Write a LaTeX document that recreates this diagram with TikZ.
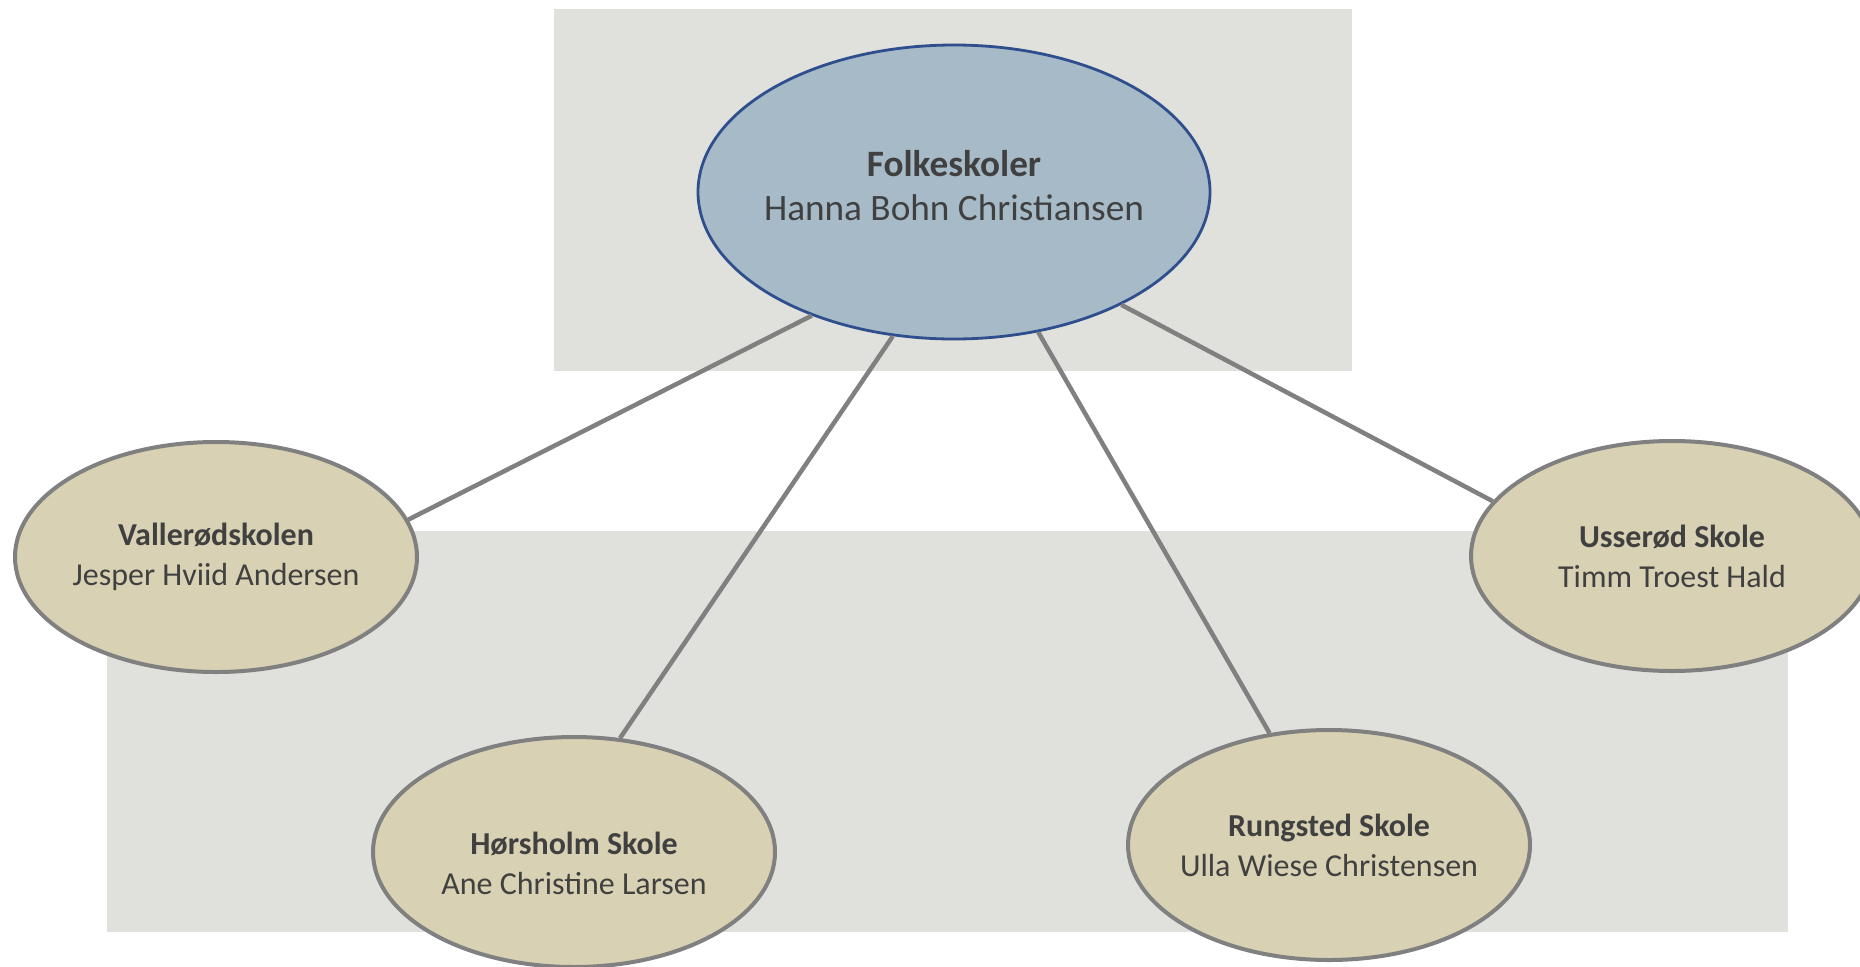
\documentclass[tikz,border=0pt]{standalone}
\usepackage{fontspec}
\setmainfont{Carlito}
\usetikzlibrary{shapes.geometric}
\definecolor{panelgray}{HTML}{E0E0DC}
\definecolor{headfill}{HTML}{A6BBC7}
\definecolor{headline}{HTML}{2E4E8E}
\definecolor{schoolfill}{HTML}{D8D1B3}
\definecolor{schoolline}{HTML}{808080}
\definecolor{textgray}{HTML}{404040}
\begin{document}
\begin{tikzpicture}[
    head/.style={ellipse, draw=headline, fill=headfill, line width=0.028cm,
      minimum width=5.12cm, minimum height=2.94cm, inner xsep=-0.8cm, inner ysep=0pt,
      text depth=0.13cm, align=center, text=textgray, font=\fontsize{10.6}{12.6}\selectfont},
    school/.style={ellipse, draw=schoolline, fill=schoolfill, line width=0.04cm,
      minimum width=4.02cm, minimum height=2.30cm, inner xsep=-0.6cm, inner ysep=0pt,
      align=center, text=textgray, font=\fontsize{9.1}{11.4}\selectfont},
    link/.style={draw=schoolline, line width=0.045cm}
  ]
                    \useasboundingbox (0,0) rectangle (18.600000,9.660000);
                    \clip (0,0) rectangle (18.600000,9.660000);

                    % Drawing panel behind head
                    \fill [panelgray] (5.540000,5.950000) rectangle (13.520000,9.565000);%

                    % Drawing panel behind schools
                    \fill [panelgray] (1.070000,0.340000) rectangle (17.880000,4.350000);%

                    % Marking head Folkeskoler
                    \node [head] (folk) at (9.540000,7.740000) {\textbf{Folkeskoler}\\Hanna Bohn Christiansen};%

                    % Marking school Vallerødskolen
                    \node [school] (vall) at (2.160000,4.090000) {\textbf{Vallerødskolen}\\Jesper Hviid Andersen};%

                    % Marking school Hørsholm Skole
                    \node [school, text height=0.86cm] (hors) at (5.740000,1.140000) {\textbf{Hørsholm Skole}\\Ane Christine Larsen};%

                    % Marking school Rungsted Skole
                    \node [school] (rung) at (13.290000,1.210000) {\textbf{Rungsted Skole}\\Ulla Wiese Christensen};%

                    % Marking school Usserød Skole
                    \node [school] (usse) at (16.720000,4.100000) {\textbf{Usserød Skole}\\Timm Troest Hald};%

                    % Drawing segment folk vall
                    \draw [link] (folk.221) -- (vall.11);%

                    % Drawing segment folk hors
                    \draw [link] (folk.247) -- (hors.68);%

                    % Drawing segment folk rung
                    \draw [link] (folk.301) -- (rung.118);%

                    % Drawing segment folk usse
                    \draw [link] (folk.326) -- (usse.163);%
\end{tikzpicture}
\end{document}
